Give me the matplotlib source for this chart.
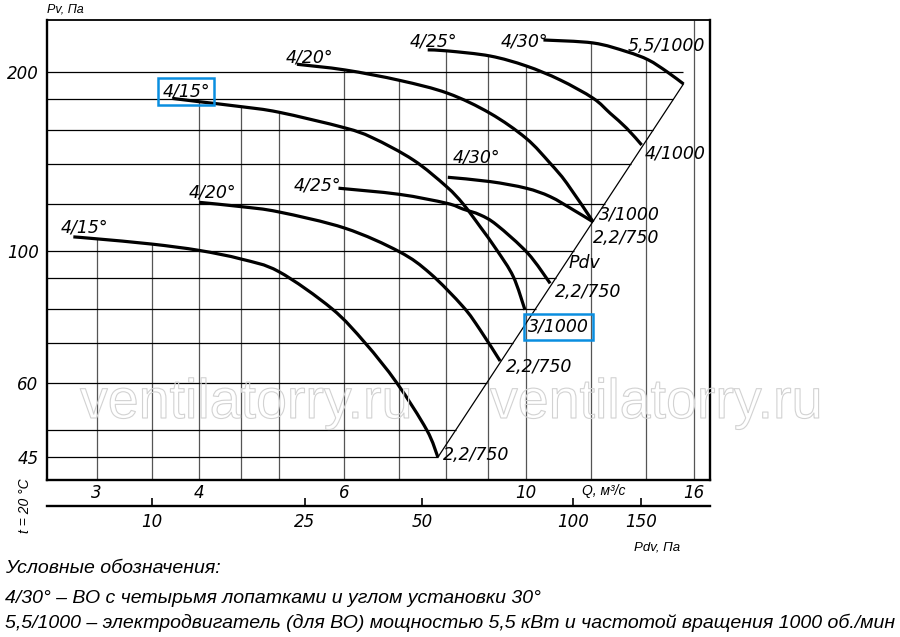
import numpy as np
import matplotlib
matplotlib.use("Agg")
import matplotlib.pyplot as plt
import matplotlib.patheffects as pe
from matplotlib.path import Path
from matplotlib.patches import PathPatch
from matplotlib.ticker import NullLocator

plt.rcParams['font.family'] = ['DejaVu Sans']
plt.rcParams['font.style'] = 'italic'

# fan curves: Q (m3/s) -> Pv (Pa)
q_415_lo = [2.81, 3.0, 3.5, 4.0, 4.5, 5.0, 5.80, 6.37, 6.96, 7.57, 7.81]
p_415_lo = [105.6, 104.8, 102.7, 100.2, 96.9, 92.3, 80.0, 70.0, 60.0, 50.0, 45.0]

q_420_lo = [4.0, 4.5, 5.0, 6.02, 7.01, 7.64, 8.38, 8.79, 9.30]
p_420_lo = [120.7, 118.7, 116.3, 109.2, 99.7, 91.7, 80.6, 73.7, 65.3]

q_425_lo = [5.91, 7.01, 8.0, 8.38, 8.79, 9.21, 10.05, 10.70]
p_425_lo = [127.5, 124.5, 120.3, 117.6, 115.0, 110.6, 99.1, 88.2]

q_430_lo = [8.03, 9.04, 10.0, 10.70, 11.42, 12.07]
p_430_lo = [133.0, 130.8, 127.5, 123.4, 117.2, 111.9]

q_415_up = [3.71, 4.0, 4.5, 5.0, 6.0, 6.5, 7.29, 8.0, 8.38, 8.79, 9.21, 9.65, 9.97]
p_415_up = [180.5, 178.2, 174.8, 171.1, 161.2, 155.0, 142.2, 128.3, 120.0, 109.9, 100.4, 90.5, 79.6]

q_420_up = [5.26, 6.02, 7.02, 8.03, 9.04, 10.0, 10.70, 11.21, 12.07]
p_420_up = [206.0, 201.5, 193.5, 184.1, 170.4, 154.7, 140.4, 130.0, 111.9]

q_425_up = [7.59, 8.03, 9.04, 10.0, 11.0, 12.07, 12.66, 13.26, 13.83]
p_425_up = [217.8, 216.9, 212.7, 204.7, 193.9, 180.6, 170.4, 160.8, 150.7]

q_430_up = [10.50, 12.07, 13.26, 14.09, 14.84, 15.55]
p_430_up = [226.3, 223.7, 216.3, 209.5, 200.2, 190.9]

# blade label / motor label of every curve
blade_labels = ['4/15°', '4/20°', '4/25°', '4/30°', '4/15°', '4/20°', '4/25°', '4/30°']
motor_labels = ['2,2/750', '2,2/750', '2,2/750', '2,2/750', '3/1000', '3/1000', '4/1000', '5,5/1000']

# Pdv line through the curve ends
pdv_line_q = [7.81, 15.55]
pdv_line_p = [45.0, 190.9]

grid_q = [3, 3.5, 4, 4.5, 5, 6, 7, 8, 9, 10, 12, 14, 16]
grid_p = [45, 50, 60, 70, 80, 90, 100, 120, 140, 160, 180, 200]
q_ticks = [3, 4, 6, 10, 16]
p_ticks = [45, 60, 100, 200]

# dynamic pressure scale under the Q axis
pdv_ticks = [10, 25, 50, 100, 150]
pdv_at_q = [3.50, 5.38, 7.47, 11.4, 13.8]

legend_lines = [
  'Условные обозначения:',
  '4/30° – ВО с четырьмя лопатками и углом установки 30°',
  '5,5/1000 – электродвигатель (для ВО) мощностью 5,5 кВт и частотой вращения 1000 об./мин',
]

curves_q = [q_415_lo, q_420_lo, q_425_lo, q_430_lo, q_415_up, q_420_up, q_425_up, q_430_up]
curves_p = [p_415_lo, p_420_lo, p_425_lo, p_430_lo, p_415_up, p_420_up, p_425_up, p_430_up]

# label offsets in pixels (left/baseline of the text from the curve start / end)
start_offsets = [(-13, 4), (-11, 5), (-45, -2), (5, 15), (-10, 2), (-11, 2), (-18, 3), (-43, -7)]
end_offsets = [(5, -3), (6, -11), (5, -14), (0, -21), (3, -22), (6, 2), (3, -13), (-56, 33)]
boxed_start = {4}
boxed_end = {4}

xmin, xmax = 2.61, 16.75
ymin, ymax = 41.2, 244.5

fig = plt.figure(figsize=(9, 6.37), dpi=100)
ax = fig.add_axes([47 / 900, 1 - 480 / 637, 663 / 900, 460 / 637])
ax.set_xscale('log')
ax.set_yscale('log')
ax.set_xlim(xmin, xmax)
ax.set_ylim(ymin, ymax)


def top_at(q):
  """upper envelope of the curves at q (frame top where no curve)"""
  tops = [10 ** np.interp(np.log10(q), np.log10(cq), np.log10(cp))
          for cq, cp in zip(curves_q, curves_p) if cq[0] <= q <= cq[-1]]
  return max(tops) if tops else ymax


def diag_q(p):
  lq = np.log10(pdv_line_q)
  lp = np.log10(pdv_line_p)
  k = (lq[1] - lq[0]) / (lp[1] - lp[0])
  return min(10 ** (lq[0] + (np.log10(p) - lp[0]) * k), pdv_line_q[-1])


def smooth_path(q, p):
  """Catmull-Rom through the read points, as bezier segments in log space"""
  pts = np.column_stack([np.log10(q), np.log10(p)])
  verts, codes = [pts[0]], [Path.MOVETO]
  n = len(pts)
  for i in range(n - 1):
    p0 = pts[max(i - 1, 0)]
    p1, p2 = pts[i], pts[i + 1]
    p3 = pts[min(i + 2, n - 1)]
    verts += [p1 + (p2 - p0) / 6, p2 - (p3 - p1) / 6, p2]
    codes += [Path.CURVE4] * 3
  return Path(10 ** np.array(verts), codes)


ax.vlines(grid_q, ymin, [top_at(q) for q in grid_q], colors='#555555', lw=0.9, zorder=1)
ax.hlines(grid_p, xmin, [diag_q(p) for p in grid_p], colors='black', lw=0.9, zorder=1)
ax.plot(pdv_line_q, pdv_line_p, color='black', lw=0.9, zorder=2)

blue = '#0a8ee0'
for i, (cq, cp) in enumerate(zip(curves_q, curves_p)):
  ax.add_patch(PathPatch(smooth_path(cq, cp), fill=False, ec='black', lw=2.3,
                         capstyle='butt', zorder=3))
  box = dict(boxstyle='square,pad=0.25', fc='none', ec=blue, lw=1.8) if i in boxed_start else None
  ax.annotate(blade_labels[i], (cq[0], cp[0]), xytext=start_offsets[i], textcoords='offset pixels',
              ha='left', va='baseline', fontsize=12.5, bbox=box, zorder=4)
  box = dict(boxstyle='square,pad=0.25', fc='none', ec=blue, lw=1.8) if i in boxed_end else None
  ax.annotate(motor_labels[i], (cq[-1], cp[-1]), xytext=end_offsets[i], textcoords='offset pixels',
              ha='left', va='baseline', fontsize=12.5, bbox=box, zorder=4)

ax.text(11.25, 93.6, 'Pdv', fontsize=12.5, ha='left', va='baseline')

ax.set_xticks(q_ticks, [str(v) for v in q_ticks])
ax.set_yticks(p_ticks, [str(v) for v in p_ticks])
ax.xaxis.set_minor_locator(NullLocator())
ax.yaxis.set_minor_locator(NullLocator())
ax.tick_params(axis='x', length=0, pad=3, labelsize=12)
ax.tick_params(axis='y', length=0, pad=6, labelsize=12)

for side in ['left', 'bottom', 'right']:
  ax.spines[side].set_linewidth(1.7)
ax.spines['top'].set_linewidth(1.3)

sec = ax.secondary_xaxis(-26 / 460)
sec.set_xticks(pdv_at_q, [str(v) for v in pdv_ticks])
sec.xaxis.set_minor_locator(NullLocator())
sec.tick_params(direction='in', length=6, width=1.2, pad=5, labelsize=12)
sec.spines['bottom'].set_linewidth(1.7)

lib = ['Liberation Sans', 'DejaVu Sans']
fig.text(47 / 900, 1 - 10 / 637, 'Pv, Па', family=lib, fontsize=9, va='center', ha='left')
fig.text(582 / 900, 1 - 491 / 637, 'Q, м³/с', family=lib, fontsize=10, va='center', ha='left')
fig.text(680 / 900, 1 - 551 / 637, 'Pdv, Па', family=lib, fontsize=9.5, va='baseline', ha='right')
fig.text(25 / 900, 1 - 506 / 637, 't = 20 °C', family=lib, fontsize=10, rotation=90,
         va='center', ha='center')

for txt, base in zip(legend_lines, [573, 603, 628]):
  fig.text(5 / 900, 1 - base / 637, txt, family=lib, fontsize=14, va='baseline', ha='left')

# watermark
for x0 in [80, 490]:
  fig.text(x0 / 900, 1 - 418 / 637, 'ventilatorry.ru', family=lib, fontstyle='normal', fontsize=40,
           color=(1, 1, 1, 0), va='baseline', ha='left',
           path_effects=[pe.Stroke(linewidth=0.8, foreground='#d2d2d2')])

fig.savefig('out.png', dpi=100)
